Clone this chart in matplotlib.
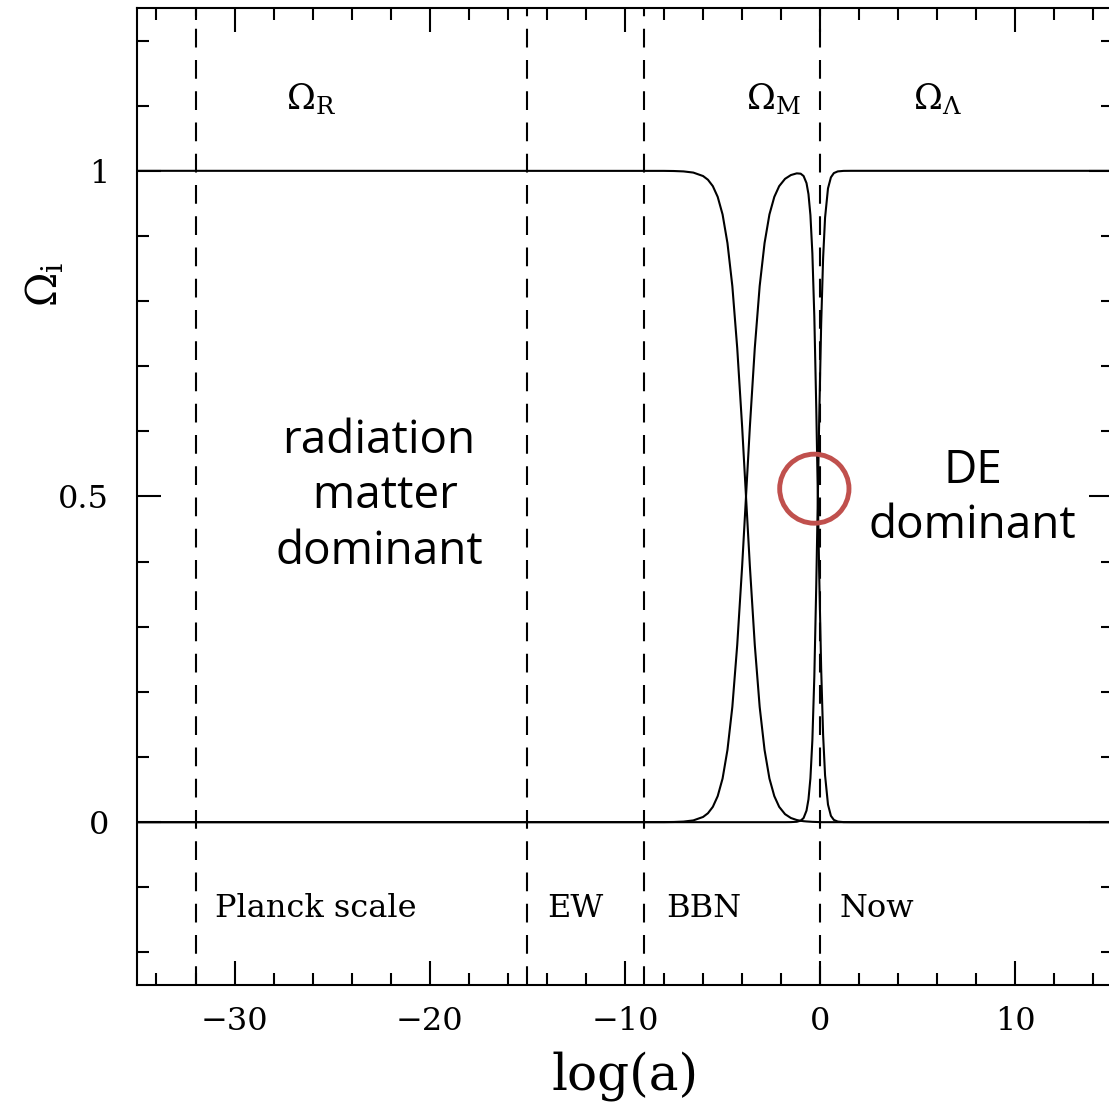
import matplotlib.pyplot as plt
from matplotlib.patches import Ellipse
from matplotlib.ticker import MultipleLocator

plt.rcParams.update({
    'font.family': 'DejaVu Serif',
    'mathtext.fontset': 'dejavuserif',
})

# density parameters vs log(a)
log_a = [-35, -8, -7.5, -7, -6.5, -6, -5.75, -5.5, -5.25, -5, -4.75, -4.5,
         -4.25, -4, -3.8, -3.6, -3.35, -3.1, -2.85, -2.6, -2.35, -2.1, -1.8,
         -1.5, -1.2, -1.0, -0.85, -0.7, -0.6, -0.5, -0.4, -0.3, -0.2, -0.12,
         -0.05, 0.05, 0.15, 0.25, 0.4, 0.55, 0.7, 0.9, 1.2, 1.6, 15]
omega_r = [1, 0.9999, 0.9997, 0.9991, 0.9973, 0.992, 0.9863, 0.9765, 0.960,
           0.933, 0.889, 0.823, 0.728, 0.608, 0.5, 0.392, 0.272, 0.177, 0.111,
           0.067, 0.040, 0.0235, 0.0123, 0.0064, 0.0033, 0.0021, 0.0015,
           0.0011, 0.0009, 0.0007, 0.0005, 0.0004, 0.0003, 0.0002, 0.0001,
           0, 0, 0, 0, 0, 0, 0, 0, 0, 0]
omega_m = [0, 0.0001, 0.0003, 0.0009, 0.0027, 0.008, 0.0137, 0.0235, 0.040,
           0.067, 0.111, 0.177, 0.272, 0.392, 0.5, 0.608, 0.728, 0.823, 0.889,
           0.933, 0.960, 0.9765, 0.9877, 0.9935, 0.9961, 0.9956, 0.992,
           0.9811, 0.9642, 0.932, 0.873, 0.776, 0.635, 0.5, 0.381, 0.236,
           0.134, 0.072, 0.027, 0.0097, 0.0035, 0.0009, 0.0001, 0, 0]
omega_l = [0, 0, 0, 0, 0, 0, 0, 0, 0, 0, 0, 0, 0, 0, 0, 0, 0, 0, 0, 0, 0, 0,
           0, 0.0001, 0.0006, 0.0023, 0.0064, 0.0178, 0.035, 0.0675, 0.126,
           0.2235, 0.365, 0.5, 0.619, 0.764, 0.866, 0.928, 0.973, 0.990,
           0.9965, 0.9991, 0.9999, 1, 1]

# epochs: dashed line position, label, label left edge
epoch_x = [-32, -15, -9, 0]
epoch_labels = ['Planck scale', 'EW', 'BBN', 'Now']
epoch_label_x = [-31.0, -14.0, -7.9, 1.0]

omega_labels = [r'$\Omega_{\rm R}$', r'$\Omega_{\rm M}$', r'$\Omega_{\Lambda}$']
omega_label_x = [-26.1, -2.4, 6.0]

fig = plt.figure(figsize=(11.09, 11.08), dpi=100)
ax = fig.add_axes([0.1235, 0.111, 0.8801, 0.8818])

for y in (omega_r, omega_m, omega_l):
    ax.plot(log_a, y, color='black', lw=1.5)

for x in epoch_x:
    ax.axvline(x, color='black', lw=1.5, dashes=(9, 6))

for x, lab in zip(epoch_label_x, epoch_labels):
    ax.text(x, -0.132, lab, fontsize=23, ha='left', va='center')

for x, lab in zip(omega_label_x, omega_labels):
    ax.text(x, 1.11, lab, fontsize=25, ha='center', va='center')

ax.text(-22.6, 0.5, 'radiation\n matter\ndominant', fontsize=33,
        family='Open Sans', ha='center', va='center', multialignment='center',
        linespacing=1.28)
ax.text(7.8, 0.497, 'DE\ndominant', fontsize=33, family='Open Sans',
        ha='center', va='center', multialignment='center', linespacing=1.28)

# red circle highlighting the matter/DE crossing
ax.add_patch(Ellipse((-0.3, 0.512), 3.55, 0.106, fill=False,
                     edgecolor='#c0504d', lw=3.5, zorder=5))

ax.set_xlim(-35, 15)
ax.set_ylim(-0.25, 1.25)
ax.xaxis.set_major_locator(MultipleLocator(10))
ax.xaxis.set_minor_locator(MultipleLocator(2))
ax.yaxis.set_major_locator(MultipleLocator(0.5))
ax.yaxis.set_minor_locator(MultipleLocator(0.1))
ax.set_yticks([0, 0.5, 1])
ax.set_yticklabels(['0', '0.5', '1'])
ax.tick_params(which='both', direction='in', top=True, right=True,
               labelsize=23, width=1.5)
ax.tick_params(which='major', length=17, pad=15)
ax.tick_params(which='minor', length=8.5)
ax.tick_params(axis='y', pad=20)
for s in ax.spines.values():
    s.set_linewidth(1.5)

ax.set_xlabel('log(a)', fontsize=36, labelpad=10)
ax.set_ylabel(r'$\Omega_{\rm i}$', fontsize=30)
ax.yaxis.set_label_coords(-0.072, 0.717)

fig.savefig('out.png', dpi=100, facecolor='white')
